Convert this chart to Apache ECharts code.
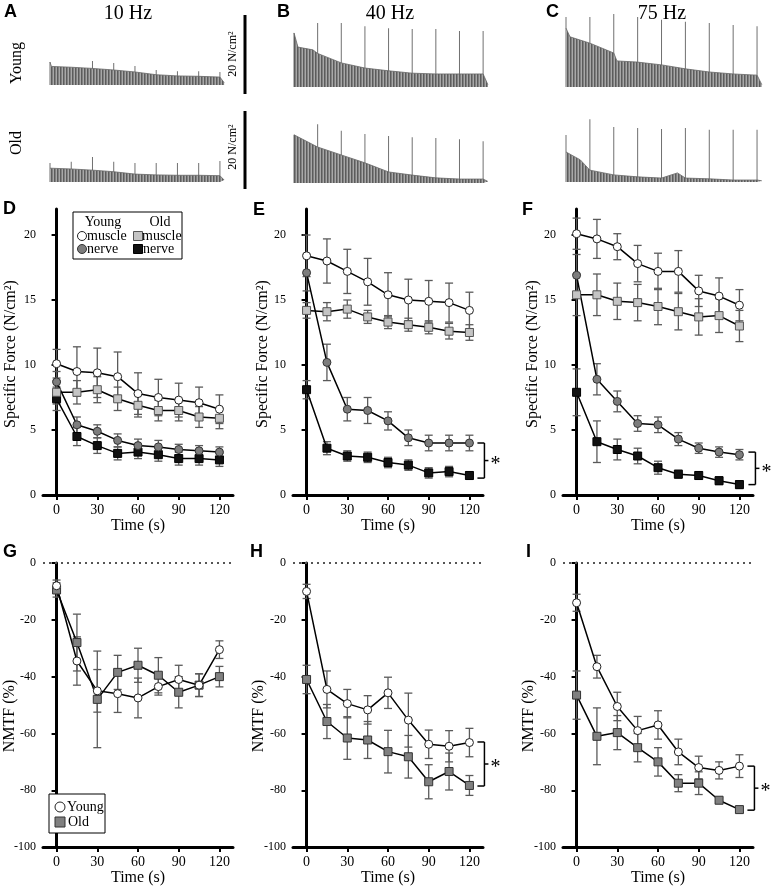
<!DOCTYPE html>
<html><head><meta charset="utf-8">
<script src="https://cdn.jsdelivr.net/npm/echarts@6/dist/echarts.min.js"></script>
<style>html,body{margin:0;padding:0;background:#fff}#c{width:771px;height:887px}</style>
</head><body><div id="c"></div><script>
// ---------- shared ----------
const times = [0, 15, 30, 45, 60, 75, 90, 105, 120];
const xTicks = [0, 30, 60, 90, 120];
const forceTicks = [0, 5, 10, 15, 20];
const nmtfTicks = [-100, -80, -60, -40, -20, 0];

// ---------- D: 10 Hz specific force ----------
const dYoungMuscle = [10.1, 9.5, 9.4, 9.1, 7.8, 7.5, 7.3, 7.1, 6.6];
const dYoungMuscleErr = [1.1, 1.9, 1.9, 1.9, 1.6, 1.4, 1.3, 1.2, 1.1];
const dOldMuscle = [7.9, 7.9, 8.1, 7.4, 6.9, 6.5, 6.5, 6.0, 5.9];
const dOldMuscleErr = [0.9, 0.9, 1.0, 0.9, 0.9, 0.8, 0.8, 0.8, 0.8];
const dYoungNerve = [8.7, 5.4, 4.9, 4.2, 3.8, 3.7, 3.5, 3.4, 3.3];
const dYoungNerveErr = [0.8, 0.6, 0.5, 0.5, 0.5, 0.5, 0.4, 0.4, 0.4];
const dOldNerve = [7.4, 4.5, 3.8, 3.2, 3.3, 3.1, 2.8, 2.8, 2.7];
const dOldNerveErr = [0.9, 0.7, 0.6, 0.5, 0.5, 0.5, 0.5, 0.5, 0.5];

// ---------- E: 40 Hz specific force ----------
const eYoungMuscle = [18.4, 18.0, 17.2, 16.4, 15.4, 15.0, 14.9, 14.8, 14.2];
const eYoungMuscleErr = [1.6, 1.7, 1.7, 1.8, 1.7, 1.6, 1.6, 1.5, 1.4];
const eOldMuscle = [14.2, 14.1, 14.3, 13.7, 13.3, 13.1, 12.9, 12.6, 12.5];
const eOldMuscleErr = [0.6, 0.7, 0.7, 0.5, 0.5, 0.5, 0.5, 0.6, 0.6];
const eYoungNerve = [17.1, 10.2, 6.6, 6.5, 5.7, 4.4, 4.0, 4.0, 4.0];
const eYoungNerveErr = [1.4, 1.4, 0.9, 1.0, 0.7, 0.6, 0.6, 0.6, 0.6];
const eOldNerve = [8.1, 3.6, 3.0, 2.9, 2.5, 2.3, 1.7, 1.8, 1.5];
const eOldNerveErr = [0.7, 0.5, 0.4, 0.4, 0.4, 0.4, 0.4, 0.4, 0.3];

// ---------- F: 75 Hz specific force ----------
const fYoungMuscle = [20.1, 19.7, 19.1, 17.8, 17.2, 17.2, 15.7, 15.3, 14.6];
const fYoungMuscleErr = [1.2, 1.5, 1.0, 1.4, 1.4, 1.6, 1.2, 1.4, 1.2];
const fOldMuscle = [15.4, 15.4, 14.9, 14.8, 14.5, 14.1, 13.7, 13.8, 13.0];
const fOldMuscleErr = [1.6, 1.6, 1.4, 1.4, 1.4, 1.4, 1.4, 1.3, 1.2];
const fYoungNerve = [16.9, 8.9, 7.2, 5.5, 5.4, 4.3, 3.6, 3.3, 3.1];
const fYoungNerveErr = [1.6, 1.2, 0.8, 0.6, 0.6, 0.5, 0.4, 0.4, 0.4];
const fOldNerve = [7.9, 4.1, 3.5, 3.0, 2.1, 1.6, 1.5, 1.1, 0.8];
const fOldNerveErr = [1.8, 1.6, 0.8, 0.6, 0.5, 0.3, 0.3, 0.3, 0.3];

// ---------- G/H/I: NMTF (%) ----------
const gYoung = [-8, -34.5, -45, -46, -47.5, -43.5, -41, -43, -30.5];
const gYoungErr = [2, 8.5, 7.5, 6.6, 7, 3, 5, 4, 3.1];
const gOld = [-9.5, -28, -48, -38.5, -36, -39.5, -45.5, -43, -40];
const gOldErr = [2.5, 10, 17, 6, 6, 6.2, 5.5, 4, 3.6];
const hYoung = [-10, -44.5, -49.5, -51.7, -45.7, -55.3, -63.8, -64.5, -63.2];
const hYoungErr = [2.5, 6.5, 5, 5, 5.5, 9.5, 5, 5.5, 5];
const hOld = [-41, -55.8, -61.6, -62.3, -66.4, -68.2, -77, -73.4, -78.3];
const hOldErr = [5, 6, 7.5, 6.5, 7.5, 7.5, 6, 6.5, 3.5];
const iYoung = [-14, -36.5, -50.5, -59, -57, -66.5, -72, -73, -71.5];
const iYoungErr = [3, 4, 5, 5, 5, 4.5, 4, 3, 4];
const iOld = [-46.5, -61, -59.7, -65, -70, -77.5, -77.5, -83.5, -86.8];
const iOldErr = [8.5, 10, 6, 5, 5, 3, 4, 1, 1];

// significance brackets [upper, lower]
const bracketE = [4.0, 1.3];
const bracketF = [3.3, 0.8];
const bracketH = [-63, -78.5];
const bracketI = [-71.5, -87];

// ---------- A/B/C raw force traces (N/cm2) ----------
const aYoungEnvT = [0, 1, 15, 30, 45, 60, 75, 90, 105, 120, 123];
const aYoungEnv = [5.8, 4.7, 4.5, 4.2, 3.8, 3.3, 2.6, 2.3, 2.2, 2.0, 0.6];
const aYoungSpikes = [5.8, 4.3, 6.1, 5.6, 4.8, 3.8, 3.5, 3.5, 3.3];
const aOldEnvT = [0, 15, 30, 45, 60, 75, 90, 105, 120, 123];
const aOldEnv = [3.5, 3.3, 3.0, 2.6, 2.0, 1.8, 1.7, 1.7, 1.6, 0.5];
const aOldSpikes = [4.8, 5.1, 6.3, 5.1, 4.8, 4.8, 4.8, 4.8, 5.3];
const bYoungEnvT = [0, 2.5, 12, 15, 30, 45, 60, 75, 90, 105, 120, 123];
const bYoungEnv = [13.7, 10.1, 9.4, 8.5, 6.1, 4.8, 4.1, 3.5, 3.3, 3.3, 3.3, 0.6];
const bYoungSpikes = [13.7, 16.2, 16.2, 15.4, 14.9, 14.7, 14.7, 14.2, 14.2];
const bOldEnvT = [0, 15, 30, 45, 60, 75, 90, 105, 120, 123];
const bOldEnv = [12.2, 9.1, 7.1, 5.1, 2.8, 2.0, 1.3, 1.0, 1.0, 0.4];
const bOldSpikes = [12.2, 14.9, 13.2, 12.4, 11.9, 11.6, 11.4, 11.1, 10.6];
const cYoungEnvT = [0, 2.5, 15, 30, 32, 45, 60, 75, 90, 105, 120, 123];
const cYoungEnv = [14.9, 12.7, 11.1, 8.6, 6.6, 6.3, 5.6, 4.6, 3.8, 3.3, 3.0, 0.6];
const cYoungSpikes = [17.7, 17.7, 18.5, 17.7, 17.0, 16.5, 16.2, 15.7, 15.4];
const cOldEnvT = [0, 9, 15, 30, 45, 60, 70, 75, 90, 105, 120, 123];
const cOldEnv = [7.6, 5.6, 3.0, 1.8, 1.3, 1.0, 2.3, 1.0, 0.8, 0.5, 0.5, 0.3];
const cOldSpikes = [11.9, 15.9, 13.9, 13.7, 13.4, 13.7, 13.2, 13.2, 13.2];

// ---------- layout ----------
const SERIF = '"Liberation Serif","Times New Roman",serif';
const SANS = '"Liberation Sans",Arial,sans-serif';
const traceLayout = [
  {left: 50, width: 177, base: 85}, {left: 50, width: 177, base: 182},
  {left: 294, width: 197, base: 87}, {left: 294, width: 197, base: 183},
  {left: 566, width: 199, base: 87}, {left: 566, width: 199, base: 182}
];
const plotLayout = [
  {left: 43, top: 209, height: 286}, {left: 293, top: 209, height: 286}, {left: 563, top: 209, height: 286},
  {left: 43, top: 563, height: 285}, {left: 293, top: 563, height: 285}, {left: 563, top: 563, height: 285}
];

const pat = (() => {
  const c = document.createElement('canvas'); c.width = 3; c.height = 4;
  const g = c.getContext('2d');
  g.fillStyle = '#a8a8a8'; g.fillRect(0, 0, 3, 4);
  g.fillStyle = '#5c5c5c'; g.fillRect(0, 0, 1, 4);
  g.fillStyle = '#808080'; g.fillRect(1, 0, 1, 4);
  return c;
})();

const grids = [], xAxes = [], yAxes = [], series = [];
traceLayout.forEach(t => {
  grids.push({left: t.left, top: t.base - 79, width: t.width, height: 79});
  xAxes.push({type: 'value', gridIndex: grids.length - 1, min: 0, max: 125, show: false});
  yAxes.push({type: 'value', gridIndex: grids.length - 1, min: 0, max: 20, show: false});
});
plotLayout.forEach((p, k) => {
  grids.push({left: p.left, top: p.top, width: 190, height: p.height});
  const gi = grids.length - 1;
  xAxes.push({
    type: 'value', gridIndex: gi, min: -10, max: 130,
    name: 'Time (s)', nameLocation: 'middle', nameGap: 22,
    nameTextStyle: {fontFamily: SERIF, fontSize: 16, color: '#000'},
    axisLine: {onZero: false, lineStyle: {color: '#000', width: 3}},
    axisTick: {customValues: xTicks, length: 5, lineStyle: {color: '#000', width: 2}},
    axisLabel: {customValues: xTicks, fontFamily: SERIF, fontSize: 14, color: '#000', margin: 8},
    splitLine: {show: false}
  });
  const top = k < 3;
  yAxes.push({
    type: 'value', gridIndex: gi, min: top ? 0 : -100, max: top ? 22 : 0,
    axisLine: {show: true, lineStyle: {color: '#000', width: 3}},
    axisTick: {customValues: top ? forceTicks : nmtfTicks, length: 5, lineStyle: {color: '#000', width: 2}},
    axisLabel: {customValues: top ? forceTicks : nmtfTicks, fontFamily: SERIF, fontSize: 12, color: '#000', margin: 7},
    splitLine: {show: false}
  });
});

function traceSeries(gi, tt, env, spikes) {
  series.push({
    type: 'line', xAxisIndex: gi, yAxisIndex: gi, data: tt.map((t, i) => [t, env[i]]),
    symbol: 'none', lineStyle: {color: '#666', width: 0.8},
    areaStyle: {color: {image: pat, repeat: 'repeat'}, opacity: 1}, silent: true
  });
  series.push({
    type: 'bar', xAxisIndex: gi, yAxisIndex: gi, data: times.map((t, i) => [t, spikes[i]]),
    barWidth: 1, itemStyle: {color: '#707070'}, silent: true
  });
}
traceSeries(0, aYoungEnvT, aYoungEnv, aYoungSpikes);
traceSeries(1, aOldEnvT, aOldEnv, aOldSpikes);
traceSeries(2, bYoungEnvT, bYoungEnv, bYoungSpikes);
traceSeries(3, bOldEnvT, bOldEnv, bOldSpikes);
traceSeries(4, cYoungEnvT, cYoungEnv, cYoungSpikes);
traceSeries(5, cOldEnvT, cOldEnv, cOldSpikes);

function errSeries(gi, vals, errs, color) {
  series.push({
    type: 'custom', xAxisIndex: gi, yAxisIndex: gi, z: 2, silent: true,
    data: times.map((t, i) => [t, vals[i], errs[i]]),
    encode: {x: 0, y: 1},
    renderItem(params, api) {
      const x = api.value(0), m = api.value(1), e = api.value(2);
      const a = api.coord([x, m + e]), b = api.coord([x, m - e]);
      const w = 4, st = {stroke: color, lineWidth: 1.3};
      return {type: 'group', children: [
        {type: 'line', shape: {x1: a[0], y1: a[1], x2: b[0], y2: b[1]}, style: st},
        {type: 'line', shape: {x1: a[0] - w, y1: a[1], x2: a[0] + w, y2: a[1]}, style: st},
        {type: 'line', shape: {x1: b[0] - w, y1: b[1], x2: b[0] + w, y2: b[1]}, style: st}
      ]};
    }
  });
}
function lineSeries(gi, vals, symbol, fill, border, extra) {
  series.push(Object.assign({
    type: 'line', xAxisIndex: gi, yAxisIndex: gi, z: 3, silent: true,
    data: times.map((t, i) => [t, vals[i]]),
    symbol: symbol, symbolSize: 8, showSymbol: true,
    lineStyle: {color: '#000', width: 1.5},
    itemStyle: {color: fill, borderColor: border, borderWidth: 1}
  }, extra || {}));
}
function bracketSeries(gi, br, dx) {
  series.push({
    type: 'custom', xAxisIndex: gi, yAxisIndex: gi, z: 4, silent: true,
    data: [[120, br[0], br[1]]], encode: {x: 0, y: 1},
    renderItem(params, api) {
      const p1 = api.coord([api.value(0), api.value(1)]);
      const p2 = api.coord([api.value(0), api.value(2)]);
      const bx = p1[0] + dx, mid = (p1[1] + p2[1]) / 2;
      const st = {stroke: '#000', lineWidth: 1.5};
      return {type: 'group', children: [
        {type: 'line', shape: {x1: bx - 7, y1: p1[1], x2: bx, y2: p1[1]}, style: st},
        {type: 'line', shape: {x1: bx, y1: p1[1], x2: bx, y2: p2[1]}, style: st},
        {type: 'line', shape: {x1: bx - 7, y1: p2[1], x2: bx, y2: p2[1]}, style: st},
        {type: 'line', shape: {x1: bx, y1: mid, x2: bx + 4, y2: mid}, style: st},
        {type: 'text', x: bx + 11, y: mid + 4, style: {text: '*', font: '20px ' + SERIF, fill: '#000', align: 'center', verticalAlign: 'middle', textAlign: 'center', textVerticalAlign: 'middle'}}
      ]};
    }
  });
}

const EB = '#5a5a5a';
const forcePanels = [
  [6, dYoungMuscle, dYoungMuscleErr, dOldMuscle, dOldMuscleErr, dYoungNerve, dYoungNerveErr, dOldNerve, dOldNerveErr],
  [7, eYoungMuscle, eYoungMuscleErr, eOldMuscle, eOldMuscleErr, eYoungNerve, eYoungNerveErr, eOldNerve, eOldNerveErr],
  [8, fYoungMuscle, fYoungMuscleErr, fOldMuscle, fOldMuscleErr, fYoungNerve, fYoungNerveErr, fOldNerve, fOldNerveErr]
];
forcePanels.forEach(p => {
  const gi = p[0];
  errSeries(gi, p[1], p[2], EB); errSeries(gi, p[3], p[4], EB);
  errSeries(gi, p[5], p[6], EB); errSeries(gi, p[7], p[8], EB);
  lineSeries(gi, p[7], 'rect', '#111', '#000');
  lineSeries(gi, p[5], 'circle', '#7d7d7d', '#333');
  lineSeries(gi, p[3], 'rect', '#c4c4c4', '#555');
  lineSeries(gi, p[1], 'circle', '#fff', '#222');
});
const zeroLine = {markLine: {silent: true, symbol: ['none', 'none'], label: {show: false},
  lineStyle: {color: '#555', type: [2, 4], width: 2}, data: [{yAxis: 0}]}};
[[9, gYoung, gYoungErr, gOld, gOldErr], [10, hYoung, hYoungErr, hOld, hOldErr], [11, iYoung, iYoungErr, iOld, iOldErr]].forEach(p => {
  const gi = p[0];
  errSeries(gi, p[1], p[2], EB); errSeries(gi, p[3], p[4], EB);
  lineSeries(gi, p[3], 'rect', '#808080', '#333', zeroLine);
  lineSeries(gi, p[1], 'circle', '#fff', '#222');
});
bracketSeries(7, bracketE, 15);
bracketSeries(8, bracketF, 16);
bracketSeries(10, bracketH, 15);
bracketSeries(11, bracketI, 15);

// ---------- text/graphics ----------
function txt(x, y, s, font, rot, align) {
  return {type: 'text', x: x, y: y, rotation: rot || 0, silent: true,
    style: {text: s, font: font, fill: '#000', align: align || 'center', verticalAlign: 'middle',
      textAlign: align || 'center', textVerticalAlign: 'middle'}};
}
const R = Math.PI / 2;
const L = 'bold 18px ' + SANS;
const graphic = [
  txt(4, 12, 'A', L, 0, 'left'), txt(277, 12, 'B', L, 0, 'left'), txt(546, 12, 'C', L, 0, 'left'),
  txt(3, 209, 'D', L, 0, 'left'), txt(253, 210, 'E', L, 0, 'left'), txt(522, 210, 'F', L, 0, 'left'),
  txt(3, 552, 'G', L, 0, 'left'), txt(250, 552, 'H', L, 0, 'left'), txt(526, 552, 'I', L, 0, 'left'),
  txt(128, 14, '10 Hz', '20px ' + SERIF), txt(390, 14, '40 Hz', '20px ' + SERIF), txt(662, 14, '75 Hz', '20px ' + SERIF),
  txt(17, 63, 'Young', '16px ' + SERIF, R), txt(17, 143, 'Old', '16px ' + SERIF, R),
  txt(233, 54, '20 N/cm²', '12px ' + SERIF, R), txt(233, 147, '20 N/cm²', '12px ' + SERIF, R),
  {type: 'line', silent: true, shape: {x1: 245, y1: 15, x2: 245, y2: 94}, style: {stroke: '#000', lineWidth: 3}},
  {type: 'line', silent: true, shape: {x1: 245, y1: 111, x2: 245, y2: 189}, style: {stroke: '#000', lineWidth: 3}},
  txt(11, 354, 'Specific Force (N/cm²)', '16px ' + SERIF, R),
  txt(263, 354, 'Specific Force (N/cm²)', '16px ' + SERIF, R),
  txt(533, 354, 'Specific Force (N/cm²)', '16px ' + SERIF, R),
  txt(10, 716, 'NMTF (%)', '16px ' + SERIF, R),
  txt(259, 716, 'NMTF (%)', '16px ' + SERIF, R),
  txt(529, 716, 'NMTF (%)', '16px ' + SERIF, R),
  // legend D
  {type: 'rect', silent: true, z: 10, shape: {x: 73, y: 212, width: 109, height: 47}, style: {fill: '#fff', stroke: '#000', lineWidth: 1}},
  Object.assign(txt(103, 222, 'Young', '14px ' + SERIF), {z: 11}),
  Object.assign(txt(160, 222, 'Old', '14px ' + SERIF), {z: 11}),
  {type: 'circle', z: 11, silent: true, shape: {cx: 82, cy: 236, r: 4.5}, style: {fill: '#fff', stroke: '#222', lineWidth: 1}},
  Object.assign(txt(87, 236, 'muscle', '14px ' + SERIF, 0, 'left'), {z: 11}),
  {type: 'rect', z: 11, silent: true, shape: {x: 133.5, y: 231.5, width: 9, height: 9}, style: {fill: '#c4c4c4', stroke: '#555', lineWidth: 1}},
  Object.assign(txt(142, 236, 'muscle', '14px ' + SERIF, 0, 'left'), {z: 11}),
  {type: 'circle', z: 11, silent: true, shape: {cx: 82, cy: 249, r: 4.5}, style: {fill: '#7d7d7d', stroke: '#333', lineWidth: 1}},
  Object.assign(txt(87, 249, 'nerve', '14px ' + SERIF, 0, 'left'), {z: 11}),
  {type: 'rect', z: 11, silent: true, shape: {x: 133.5, y: 244.5, width: 9, height: 9}, style: {fill: '#111', stroke: '#000', lineWidth: 1}},
  Object.assign(txt(143, 249, 'nerve', '14px ' + SERIF, 0, 'left'), {z: 11}),
  // legend G
  {type: 'rect', silent: true, z: 10, shape: {x: 49, y: 794, width: 56, height: 39}, style: {fill: '#fff', stroke: '#000', lineWidth: 1}},
  {type: 'circle', z: 11, silent: true, shape: {cx: 60, cy: 807, r: 5}, style: {fill: '#fff', stroke: '#222', lineWidth: 1}},
  Object.assign(txt(67, 807, 'Young', '14px ' + SERIF, 0, 'left'), {z: 11}),
  {type: 'rect', z: 11, silent: true, shape: {x: 55, y: 817, width: 10, height: 10}, style: {fill: '#808080', stroke: '#333', lineWidth: 1}},
  Object.assign(txt(68, 822, 'Old', '14px ' + SERIF, 0, 'left'), {z: 11})
];

const chart = echarts.init(document.getElementById('c'), null, {renderer: 'canvas'});
chart.setOption({
  animation: false, backgroundColor: '#fff',
  grid: grids, xAxis: xAxes, yAxis: yAxes, series: series, graphic: graphic
});
</script></body></html>
